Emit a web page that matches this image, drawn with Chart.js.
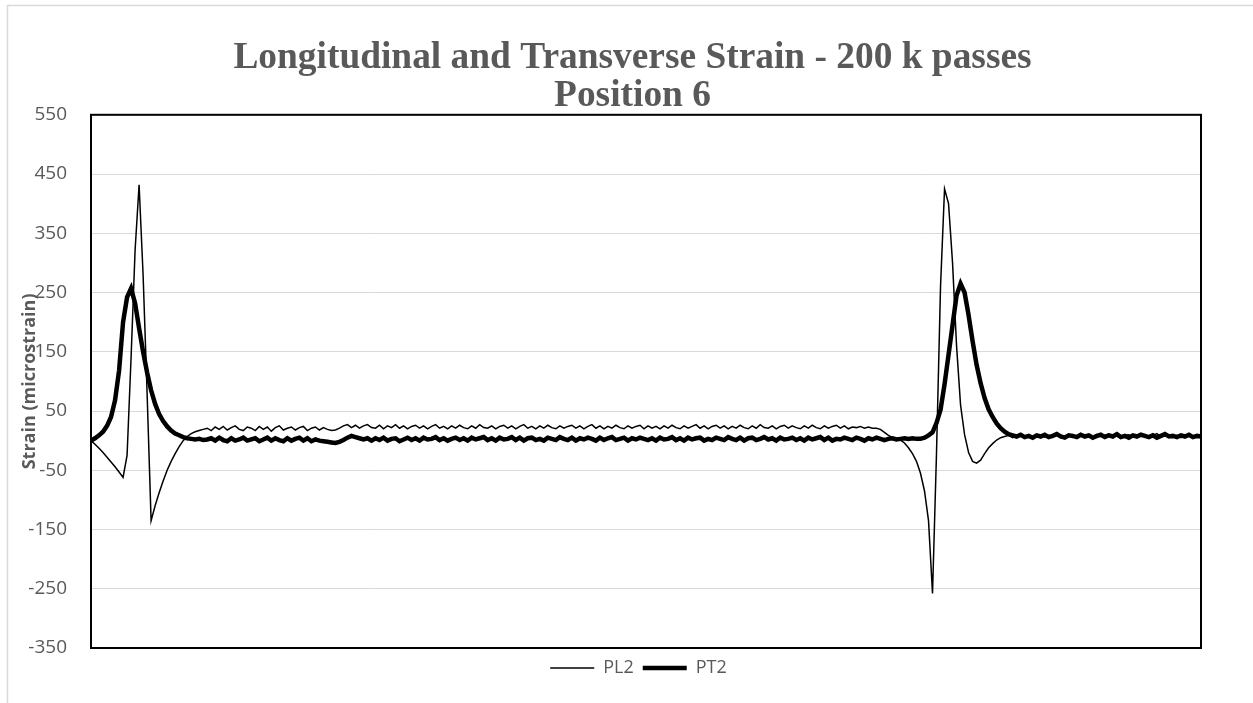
<!DOCTYPE html>
<html>
<head>
<meta charset="utf-8">
<script src="https://cdn.jsdelivr.net/npm/chart.js@4"></script>
<style>
  html, body { margin: 0; padding: 0; background: #fff; }
  #wrap { width: 1253px; height: 703px; }
</style>
</head>
<body>
<div id="wrap"><canvas id="canvas" width="1253" height="703"></canvas></div>
<script>
// strain readings, one every ~4 px along the plot (no x tick labels in the original)
var pl2 = [
  0, -6, -13, -20, -28, -36, -44, -53, -62, -25,
  140, 321, 432, 280, 80, -135, -110, -88, -68, -50,
  -35, -22, -10, 0, 7, 12, 15, 17, 19, 21,
  17, 23, 19, 24, 18, 22, 25, 19, 17, 23,
  21, 17, 24, 19, 23, 16, 22, 25, 18, 21,
  23, 18, 22, 24, 17, 21, 23, 18, 22, 19,
  17, 18, 21, 25, 27, 22, 26, 21, 25, 27,
  22, 21, 26, 20, 25, 22, 27, 21, 25, 20,
  24, 26, 21, 25, 20, 24, 27, 21, 24, 20,
  25, 21, 26, 22, 20, 25, 21, 27, 22, 21,
  25, 20, 24, 26, 21, 25, 20, 24, 27, 21,
  24, 20, 25, 21, 26, 22, 20, 25, 21, 24,
  26, 21, 25, 20, 24, 27, 21, 25, 20, 24,
  21, 26, 22, 20, 25, 21, 24, 26, 20, 25,
  21, 24, 20, 25, 21, 26, 22, 20, 25, 21,
  24, 27, 21, 25, 20, 24, 26, 21, 25, 20,
  24, 21, 26, 22, 20, 25, 21, 27, 22, 21,
  25, 20, 24, 26, 21, 25, 22, 20, 25, 21,
  26, 22, 20, 25, 21, 24, 26, 21, 25, 20,
  23, 22, 24, 21, 23, 21, 21, 19, 14, 9,
  5, 3, 1, -4, -12, -22, -35, -55, -85, -135,
  -258, -20, 260, 425, 400, 300, 160, 60, 10, -20,
  -35, -38, -33, -22, -12, -5, 1, 5, 7,
  9, 5, 8, 11, 6, 9, 4, 8, 10, 6,
  9, 7, 11, 5, 8, 10, 6, 9, 12, 7,
  8, 5, 10, 7, 9, 11, 6, 8, 4, 9,
  10, 6, 8, 11, 7, 5, 9, 12, 7, 8,
  10, 6, 9, 5, 8, 11, 7, 9, 6
];
var pt2 = [
  0, 4, 9, 15, 25, 40, 68, 118, 200, 242,
  257, 232, 190, 150, 115, 85, 62, 45, 33, 24,
  17, 12, 9, 6, 4, 3, 2, 3, 1, 2,
  4, 0, 5, 1, -1, 4, 0, 2, 5, 0,
  2, 4, -1, 2, 5, 0, 4, 1, -1, 4,
  0, 3, 5, 0, 4, -1, 2, 0, -1, -2,
  -3, -4, -2, 1, 5, 8, 6, 4, 2, 4,
  0, 4, 1, 5, 0, 3, 4, -1, 2, 5,
  1, 4, 0, 5, 2, 3, 6, 1, 4, 0,
  3, 5, 1, 4, 0, 5, 2, 4, 6, 1,
  4, 0, 5, 2, 3, 6, 1, 5, 0, 4,
  5, 1, 3, 0, 5, 3, 1, 6, 3, 1,
  5, 0, 4, 2, 5, 3, 0, 5, 1, 4,
  6, 1, 3, 5, 0, 4, 2, 5, 3, 1,
  4, 0, 5, 2, 3, 6, 1, 4, 0, 5,
  2, 4, 5, 0, 3, 1, 5, 3, 1, 6,
  3, 1, 5, 0, 4, 5, 1, 3, 6, 2,
  4, 0, 5, 2, 3, 5, 1, 4, 0, 5,
  2, 4, 6, 1, 5, 0, 3, 2, 5, 3,
  1, 5, 3, 0, 4, 2, 5, 3, 1, 3,
  4, 2, 3, 4, 3, 4, 3, 3, 5, 9,
  14, 30, 52, 95, 145, 195, 245, 265, 250, 212,
  168, 128, 97, 72, 53, 40, 29, 21, 15, 11,
  9, 7, 10, 6, 8, 5, 9, 7, 10, 6,
  8, 11, 7, 5, 9, 8, 6, 10, 7, 9,
  5, 8, 10, 6, 9, 7, 11, 6, 8, 5,
  9, 7, 10, 8, 6, 9, 5, 8, 11, 7,
  8, 6, 9, 7, 10, 6, 8, 7
];
var seriesNames = ['PL2', 'PT2'];
var titleLines = ['Longitudinal and Transverse Strain - 200 k passes', 'Position 6'];
var yTitle = 'Strain (microstrain)';
var yMin = -350, yMax = 550, yStep = 100;

var samples = pl2.map(function (v, i) { return i; });
var grey = '#595959';

// outer chart frame, black plot-area box, y title sitting over the ticks
var decor = {
  id: 'decor',
  afterLayout: function (chart) {
    // centre title and legend a little right of the canvas centre, like the original
    chart.titleBlock.left = 64;
    chart.titleBlock.width = chart.titleBlock.right - 64;
    chart.legend.left = 76;
    chart.legend.width = chart.legend.right - 76;
  },
  beforeDraw: function (chart) {
    var c = chart.ctx;
    c.save();
    c.fillStyle = '#fff';
    c.fillRect(0, 0, chart.width, chart.height);
    c.strokeStyle = '#d9d9d9';
    c.lineWidth = 1.5;
    c.beginPath();
    c.moveTo(7.5, chart.height);
    c.lineTo(7.5, 5.5);
    c.lineTo(chart.width, 5.5);
    c.stroke();
    c.restore();
  },
  afterDraw: function (chart) {
    var c = chart.ctx, a = chart.chartArea;
    c.save();
    c.strokeStyle = '#000';
    c.lineWidth = 2;
    c.strokeRect(a.left, a.top, a.right - a.left, a.bottom - a.top);
    c.translate(30, (a.top + a.bottom) / 2);
    c.rotate(-Math.PI / 2);
    c.fillStyle = grey;
    c.font = 'bold 18px "Open Sans"';
    c.textAlign = 'center';
    c.textBaseline = 'middle';
    c.fillText(yTitle, 0, 0);
    c.restore();
  }
};

var ctxL = document.getElementById('canvas').getContext('2d');
var chart = new Chart(ctxL, {
  type: 'line',
  data: {
    labels: samples,
    datasets: [{
      label: seriesNames[0],
      data: pl2,
      borderColor: '#000',
      borderWidth: 1.5,
      pointRadius: 0,
      tension: 0
    },
    {
      label: seriesNames[1],
      data: pt2,
      borderColor: '#000',
      borderWidth: 4.5,
      pointRadius: 0,
      tension: 0
    }]
  },
  options: {
    responsive: false,
    animation: false,
    events: [],
    layout: { padding: { left: 0, right: 52, top: 0, bottom: 16 } },
    plugins: {
      title: {
        display: true,
        text: titleLines,
        color: grey,
        font: { family: '"Liberation Serif"', size: 37.4, weight: 'bold', lineHeight: 1.0 },
        padding: { top: 40, bottom: 0 }
      },
      legend: {
        position: 'bottom',
        labels: {
          color: grey,
          font: { family: '"Open Sans"', size: 18 },
          usePointStyle: true,
          pointStyleWidth: 44,
          pointStyle: 'line',
          padding: 9
        }
      },
      tooltip: { enabled: false }
    },
    scales: {
      x: {
        type: 'category',
        grid: { display: false },
        border: { display: false },
        ticks: { display: false },
        afterFit: function (s) { s.height = 2; }
      },
      y: {
        min: yMin,
        max: yMax,
        afterFit: function (s) { s.width = 91; },
        ticks: {
          stepSize: yStep,
          color: grey,
          padding: 24,
          font: { family: '"Open Sans"', size: 19 }
        },
        grid: { color: '#d9d9d9', lineWidth: 1, drawTicks: false },
        border: { display: false }
      }
    }
  },
  plugins: [decor]
});
</script>
</body>
</html>
